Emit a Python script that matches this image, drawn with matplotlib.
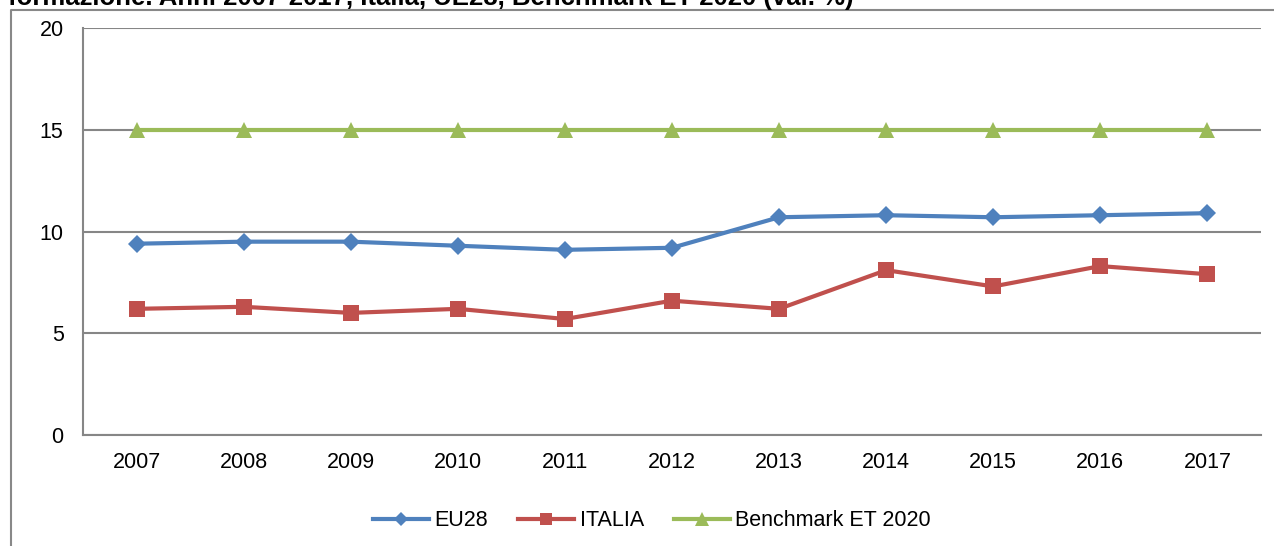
import matplotlib
matplotlib.use("Agg")
import matplotlib.pyplot as plt
from matplotlib.lines import Line2D

years = ["2007", "2008", "2009", "2010", "2011", "2012", "2013", "2014", "2015", "2016", "2017"]
eu28 = [9.4, 9.5, 9.5, 9.3, 9.1, 9.2, 10.7, 10.8, 10.7, 10.8, 10.9]
italia = [6.2, 6.3, 6.0, 6.2, 5.7, 6.6, 6.2, 8.1, 7.3, 8.3, 7.9]
benchmark = [15, 15, 15, 15, 15, 15, 15, 15, 15, 15, 15]
series_names = ["EU28", "ITALIA", "Benchmark ET 2020"]
yticks = [0, 5, 10, 15, 20]
title = "formazione. Anni 2007-2017, Italia, UE28, Benchmark ET 2020 (val. %)"

plt.rcParams['font.family'] = ['Liberation Sans', 'DejaVu Sans']

W, H = 1274, 546
fig = plt.figure(figsize=(W / 100, H / 100), dpi=100)
ax = fig.add_axes([83 / W, 1 - 435 / H, (1261 - 83) / W, (435 - 28) / H])

x = list(range(len(years)))
ax.plot(x, eu28, color="#4F81BD", lw=3, marker="D", ms=9.5, mew=0, label=series_names[0], zorder=4)
ax.plot(x, italia, color="#C0504D", lw=3, marker="s", ms=11.5, mew=0, label=series_names[1], zorder=4)
ax.plot(x, benchmark, color="#9BBB59", lw=3, marker="^", ms=12, mew=0, label=series_names[2], zorder=3)

ax.set_xlim(-0.5, len(years) - 0.5)
ax.set_ylim(0, 20)
ax.set_yticks(yticks)
ax.set_xticks(x)
ax.set_xticklabels(years)
ax.tick_params(axis='both', length=0, labelsize=15.5, colors='black')
ax.tick_params(axis='y', pad=14)
ax.tick_params(axis='x', pad=12)
ax.grid(axis='y', color='#868686', lw=1.5, zorder=1)
ax.set_axisbelow(True)
for s in ['top', 'right']:
    ax.spines[s].set_visible(False)
for s in ['left', 'bottom']:
    ax.spines[s].set_color('#868686')
    ax.spines[s].set_linewidth(1.5)

leg = fig.legend(loc='center', bbox_to_anchor=(652 / W, 1 - 521 / H), ncol=3, frameon=False,
                 fontsize=15.5, handlelength=2.6, handletextpad=0.25, columnspacing=1.4,
                 markerscale=0.8)

# outer chart frame
fig.add_artist(Line2D([11 / W, 11 / W, 1.0], [0.0, 1 - 10 / H, 1 - 10 / H],
                      transform=fig.transFigure, color='#888888', lw=1.5))

# title, cropped at the top edge as in the reference
t = fig.text(8 / W, 1 - 5 / H, title, fontsize=16, fontweight='bold', va='baseline', ha='left')
fig.canvas.draw()
r = fig.canvas.get_renderer()
w = t.get_window_extent(r).width
t.set_fontsize(16 * 845 / w)

fig.savefig("out.png", dpi=100)
